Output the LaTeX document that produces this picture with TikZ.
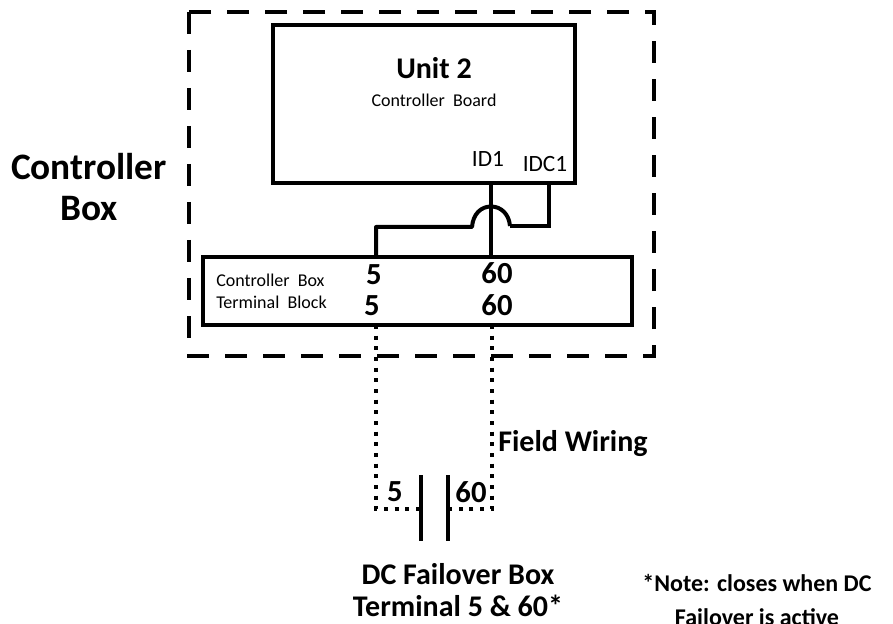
\documentclass[tikz,border=0pt]{standalone}
\usepackage{fontspec}
\setmainfont{Carlito}
\usetikzlibrary{calc}
\newcommand\boxtextstyle{\fontsize{13.5}{16}\selectfont}
\newcommand\idtextstyle{\fontsize{17.5}{20}\selectfont}
\newcommand\termtextstyle{\fontsize{23}{26}\selectfont\bfseries}
\newcommand\titletextstyle{\fontsize{22.5}{23.5}\selectfont\bfseries}
\newcommand\sidetextstyle{\fontsize{28}{31}\selectfont\bfseries}
\newcommand\notetextstyle{\fontsize{18}{25}\selectfont\bfseries}
\tikzset{
  solidbox/.style={draw, line width=3.3pt, inner sep=0pt, outer sep=0pt},
  wire/.style={line width=3pt},
  fieldwire/.style={line width=3.4pt, dash pattern=on 3pt off 5pt},
  plate/.style={line width=3.4pt},
  enclosure/.style={line width=3.3pt, dash pattern=on 16.5pt off 12pt},
  label/.style={inner sep=0pt, align=center},
}
\begin{document}
\begin{tikzpicture}[x=.75pt, y=-.75pt]
    \useasboundingbox (0,0) rectangle (893,624);
    \node[fill=white, inner sep=0pt, minimum width=893*.75pt, minimum height=624*.75pt] (page) at (446.5,312) {};
    \coordinate (dashnw) at (189,12);
    \coordinate (dashse) at (654,356);
    \draw[enclosure] (dashnw) rectangle (dashse);
    \node[solidbox, fill=white, minimum width=302*.75pt, minimum height=158*.75pt] (board) at (424,104) {};
    \node[solidbox, fill=white, minimum width=429*.75pt, minimum height=68*.75pt] (block) at (417.5,291) {};
    % board texts
    \node[label, font=\titletextstyle] (unit) at (434,68) {Unit 2};
    \node[label, font=\boxtextstyle] (boardname) at (434,100) {Controller\ \ Board};
    \node[label, font=\idtextstyle] (idone) at (488,159) {ID1};
    \node[label, font=\idtextstyle] (idcone) at (545,164) {IDC1};
    % terminal block texts
    \node[label, font=\boxtextstyle, anchor=west] (blockone) at (216,280) {Controller\ \ Box};
    \node[label, font=\boxtextstyle, anchor=west] (blocktwo) at (216,302) {Terminal\ \ Block};
    \node[label, font=\termtextstyle] (fivetop) at (374,275) {5};
    \node[label, font=\termtextstyle] (sixtytop) at (497,273) {60};
    \node[label, font=\termtextstyle] (fivebot) at (372,306) {5};
    \node[label, font=\termtextstyle] (sixtybot) at (497,305) {60};
    % wires
    \coordinate (idpin) at (491,183);
    \coordinate (idcpin) at (549,183);
    \coordinate (fivepin) at (376,257);
    \coordinate (sixtypin) at (491,257);
    \coordinate (hopleft) at (472,227);
    \coordinate (hopright) at (510,226);
    \draw[wire, line width=2.6pt] (idpin) -- (sixtypin);
    \draw[wire, line join=round] (fivepin) -- (fivepin |- hopleft) -- (hopleft)
      .. controls (473,214) and (481,206.5) .. (491,206.5)
      .. controls (501,206.5) and (509,214) .. (hopright);
    \draw[wire] (hopright) -- (idcpin |- hopright) -- (idcpin);
    % field wiring
    \coordinate (fiveout) at (376,325);
    \coordinate (sixtyout) at (492,325);
    \coordinate (fivecorner) at (376,509);
    \coordinate (sixtycorner) at (492,509);
    \coordinate (plateltop) at (421,475);
    \coordinate (platelbot) at (421,541);
    \coordinate (platertop) at (448,475);
    \coordinate (platerbot) at (448,541);
    \draw[fieldwire] (fiveout) -- (fivecorner) -- (plateltop |- fivecorner);
    \draw[fieldwire] (sixtyout) -- (sixtycorner) -- (platertop |- sixtycorner);
    \draw[plate] (plateltop) -- (platelbot);
    \draw[plate] (platertop) -- (platerbot);
    % outside texts
    \node[label, font=\sidetextstyle] (ctrlbox) at (89,187) {Controller\\Box};
    \node[label, font=\titletextstyle, anchor=west] (fieldtext) at (498,444) {Field Wiring};
    \node[label, font=\termtextstyle] (fivecap) at (395,492) {5};
    \node[label, font=\termtextstyle] (sixtycap) at (471,492) {60};
    \node[label, font=\titletextstyle] (failover) at (458,590) {DC Failover Box\\Terminal 5 \& 60*};
    \node[label, font=\notetextstyle] (note) at (757,600) {*Note: closes when DC\\Failover is active};
  \end{tikzpicture}
\end{document}
